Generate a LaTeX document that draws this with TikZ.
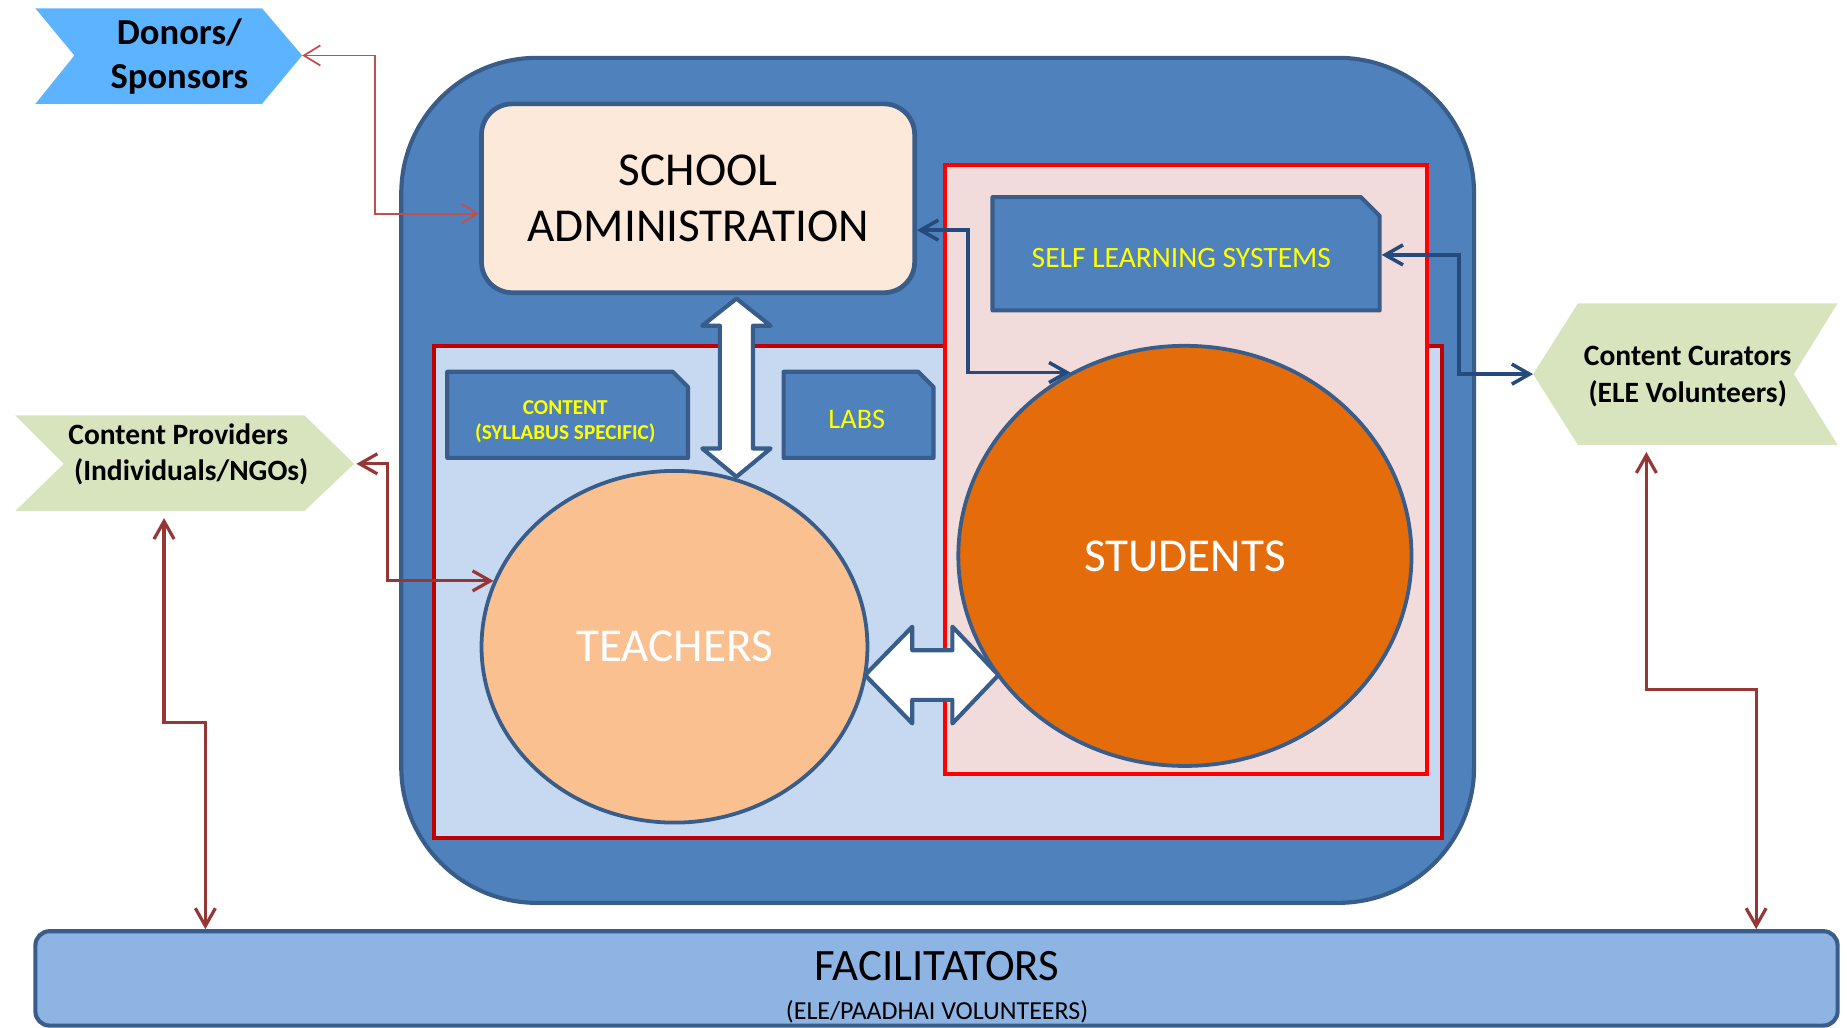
\documentclass[tikz,border=0pt]{standalone}
\usepackage{fontspec}
\setmainfont{Carlito}
\usetikzlibrary{arrows.meta,shapes.geometric}
\definecolor{outerblue}{RGB}{79,129,189}
\definecolor{edgeblue}{RGB}{56,93,138}
\definecolor{adminfill}{RGB}{253,233,217}
\definecolor{tfill}{RGB}{198,217,241}
\definecolor{tedge}{RGB}{192,0,0}
\definecolor{sfill}{RGB}{242,220,219}
\definecolor{sedge}{RGB}{255,0,0}
\definecolor{teachfill}{RGB}{250,192,144}
\definecolor{studfill}{RGB}{228,108,10}
\definecolor{facfill}{RGB}{142,180,227}
\definecolor{donorfill}{RGB}{92,179,255}
\definecolor{greenfill}{RGB}{215,228,189}
\definecolor{yel}{RGB}{255,255,0}
\definecolor{darkred}{RGB}{149,55,53}
\definecolor{lightred}{RGB}{192,80,77}
\definecolor{linkblue}{RGB}{37,74,126}
\newcommand\snipbox[5]{\path[box, fill=outerblue] (#1,#4) -- (#1,#2) -- ({#3-#5},#2) -- (#3,{#2+#5}) -- (#3,#4) -- cycle;}
\begin{document}
\begin{tikzpicture}[x=1pt,y=-1pt,
  box/.style={draw=edgeblue, line width=3.5pt, inner sep=0pt, line join=round},
  region/.style={line width=3.5pt, inner sep=0pt},
  oval/.style={ellipse, draw=edgeblue, line width=3.2pt, inner sep=0pt, text=white, font=\fontsize{40}{48}\selectfont},
  inbox/.style={inner sep=0pt, outer sep=1.75pt, text=yel, align=center},
  chev/.style={draw=none},
  chevtext/.style={font=\bfseries\fontsize{25}{31}\selectfont, align=center},
  redlink/.style={draw=darkred, line width=2.7pt, arrows={Straight Barb[length=15pt,width=17pt]-Straight Barb[length=15pt,width=17pt]}},
  thinred/.style={draw=lightred, line width=1.5pt, arrows={Straight Barb[length=14pt,width=17pt]-Straight Barb[length=14pt,width=17pt]}},
  bluelink/.style={draw=linkblue, line width=3pt, arrows={Straight Barb[length=15pt,width=17pt]-Straight Barb[length=15pt,width=17pt]}},
  blockarrow/.style={draw=edgeblue, fill=white, line width=3.5pt, line join=round}
]
\useasboundingbox (0,0) rectangle (1565,871);

% chevrons
\path[chev, fill=donorfill] (30,7) -- (222,7) -- (256,47) -- (222,88) -- (30,88) -- (63,47) -- cycle;
\node[font=\bfseries\fontsize{31}{37}\selectfont, align=center] (donors) at (152,48) {Donors/\\Sponsors};
\coordinate (donR) at (256,47);

\path[chev, fill=greenfill] (13,352) -- (258,352) -- (300,393) -- (258,433) -- (13,433) -- (54,393) -- cycle;
\node[chevtext] (providers) at (156,385) {Content Providers\hspace*{10pt}\\\hspace*{12pt}(Individuals/NGOs)};
\coordinate (provR) at (302,393);
\coordinate (provB) at (139,439);

\path[chev, fill=greenfill] (1337,257) -- (1557,257) -- (1520,317) -- (1557,377) -- (1337,377) -- (1299,317) -- cycle;
\node[chevtext] (curators) at (1430,319) {Content Curators\\(ELE Volunteers)};
\coordinate (curL) at (1299,317);
\coordinate (curB) at (1395,383);

% school
\node[box, fill=outerblue, rounded corners=115pt, minimum width=909pt, minimum height=716pt] (outer) at (794.5,407) {};
\node[region, draw=tedge, fill=tfill, minimum width=854pt, minimum height=417pt] (tarea) at (795,501.5) {};
\node[region, draw=sedge, fill=sfill, minimum width=408pt, minimum height=516pt] (sarea) at (1005,398) {};
\node[box, line width=4pt, fill=adminfill, rounded corners=26pt, minimum width=367pt, minimum height=160pt, align=center, font=\fontsize{40}{48}\selectfont] (admin) at (591.5,168) {SCHOOL\\ADMINISTRATION};

\snipbox{379}{315}{583}{388}{13}
\node[inbox, minimum width=204pt, minimum height=73pt, font=\bfseries\fontsize{18}{21}\selectfont] (content) at (479,357) {CONTENT\\(SYLLABUS SPECIFIC)};
\snipbox{664}{315}{791}{388}{13}
\node[inbox, minimum width=127pt, minimum height=73pt, font=\fontsize{24}{29}\selectfont] (labs) at (726,355) {LABS};
\snipbox{841}{167}{1169}{263}{16}
\node[inbox, minimum width=328pt, minimum height=96pt] (sls) at (1005,216) {};
\node[text=yel, font=\fontsize{25}{30}\selectfont] (slstext) at (1001,219) {SELF LEARNING SYSTEMS};

\node[oval, fill=teachfill, minimum width=327pt, minimum height=298pt] (teachers) at (571.5,548) {TEACHERS};
\node[oval, fill=studfill, minimum width=384pt, minimum height=356pt] (students) at (1004,471) {STUDENTS};

% facilitators
\node[box, fill=facfill, rounded corners=12pt, minimum width=1527pt, minimum height=80pt] (facil) at (793.5,829) {};
\node[font=\fontsize{38}{44}\selectfont] (factitle) at (794,819) {FACILITATORS};
\node[font=\fontsize{22}{26}\selectfont] (facsub) at (794,857) {(ELE/PAADHAI VOLUNTEERS)};

% connectors
\draw[thinred] (donR) -- (318,47) |- ([yshift=-13pt]admin.west);
\draw[bluelink] ([yshift=-27pt]admin.east) -- (820,195) |- (students.122);
\draw[bluelink] (sls.east) -- (1236,216) |- (curL);
\draw[redlink] (provR) -- (328,393) |- (teachers.160);
\draw[redlink] (provB) -- (139,612) -- (174,612) -- (174,612 |- facil.north);
\draw[redlink] (curB) -- (1395,584) -- (1488,584) -- (1488,584 |- facil.north);

% block arrows
\path[blockarrow] (624,253) -- (653,276) -- (638,276) -- (638,380) -- (653,380) -- (624,404) -- (595,380) -- (610,380) -- (610,276) -- (595,276) -- cycle;
\path[blockarrow] (733,572) -- (773,531) -- (773,551) -- (807,551) -- (807,531) -- (846,572) -- (807,613) -- (807,593) -- (773,593) -- (773,613) -- cycle;
\end{tikzpicture}
\end{document}
